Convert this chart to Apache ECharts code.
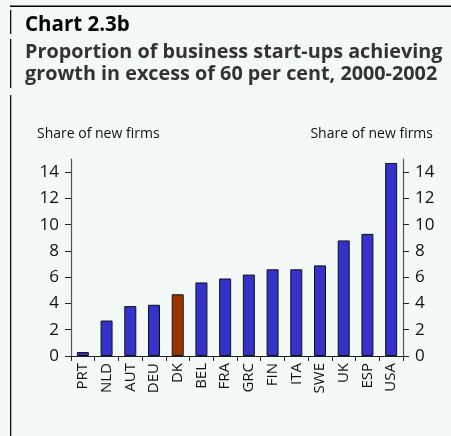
<!DOCTYPE html>
<html>
<head>
<meta charset="utf-8">
<script src="https://cdn.jsdelivr.net/npm/echarts@6/dist/echarts.min.js"></script>
<style>
  html, body { margin: 0; padding: 0; background: #f2f9f6; }
  #chart { width: 451px; height: 436px; }
</style>
</head>
<body>
<div id="chart"></div>
<script>
// Countries, ordered by share of fast-growing start-ups
const countries = ['PRT', 'NLD', 'AUT', 'DEU', 'DK', 'BEL', 'FRA', 'GRC', 'FIN', 'ITA', 'SWE', 'UK', 'ESP', 'USA'];
// Share of new firms with growth above 60 per cent, 2000-2002
const shares = [0.3, 2.7, 3.8, 3.9, 4.7, 5.6, 5.9, 6.2, 6.6, 6.6, 6.9, 8.8, 9.3, 14.7];
// Tick values shown on both value axes
const yTicks = [0, 2, 4, 6, 8, 10, 12, 14];
// Country picked out in a different colour
const highlight = 'DK';

const FONT = '"Open Sans", "Noto Sans", sans-serif';
const BLUE = '#3333cc';
const BROWN = '#993300';

const chart = echarts.init(document.getElementById('chart'), null, { renderer: 'canvas' });

function valueAxis(position) {
  return {
    type: 'value',
    position: position,
    min: 0,
    max: 15,
    splitLine: { show: false },
    axisLine: { show: true, lineStyle: { color: '#555', width: 1.2 } },
    axisTick: { show: true, length: 6, lineStyle: { color: '#222' }, customValues: yTicks },
    axisLabel: {
      customValues: yTicks,
      color: '#111',
      fontFamily: FONT,
      fontSize: 17,
      margin: 12
    }
  };
}

chart.setOption({
  backgroundColor: '#f2f9f6',
  animation: false,
  grid: { left: 71, right: 48, top: 159, bottom: 80 },
  xAxis: {
    type: 'category',
    data: countries,
    axisLine: { show: true, lineStyle: { color: '#222', width: 1.2 } },
    axisTick: { show: true, length: 5, lineStyle: { color: '#222' } },
    axisLabel: {
      rotate: 90,
      color: '#111',
      fontFamily: FONT,
      fontSize: 15,
      margin: 7
    }
  },
  yAxis: [valueAxis('left'), valueAxis('right')],
  series: [{
    type: 'bar',
    barWidth: 12,
    data: countries.map((c, i) => ({
      value: shares[i],
      itemStyle: { color: c === highlight ? BROWN : BLUE }
    })),
    itemStyle: { borderColor: '#111', borderWidth: 1 }
  }],
  graphic: [
    // frame: rule along the top and broken rule down the left side
    { type: 'rect', z: 100, shape: { x: 10, y: 5.5, width: 441, height: 1.5 }, style: { fill: '#000' } },
    { type: 'rect', shape: { x: 10, y: 10, width: 1.3, height: 24 }, style: { fill: '#111' } },
    { type: 'rect', shape: { x: 10, y: 39, width: 1.3, height: 49 }, style: { fill: '#111' } },
    { type: 'rect', shape: { x: 10, y: 95, width: 1.3, height: 341 }, style: { fill: '#111' } },
    {
      type: 'text', left: 25, top: 15,
      style: { text: 'Chart 2.3b', fill: '#000', font: 'bold 20.5px ' + FONT }
    },
    {
      type: 'text', left: 25, top: 41,
      style: {
        text: 'Proportion of business start-ups achieving\ngrowth in excess of 60 per cent, 2000-2002',
        fill: '#333', font: 'bold 19.8px ' + FONT, lineHeight: 22
      }
    },
    {
      type: 'text', left: 37, top: 127,
      style: { text: 'Share of new firms', fill: '#111', font: '14px ' + FONT }
    },
    {
      type: 'text', right: 18, top: 127,
      style: { text: 'Share of new firms', fill: '#111', font: '14px ' + FONT }
    }
  ]
});
</script>
</body>
</html>
